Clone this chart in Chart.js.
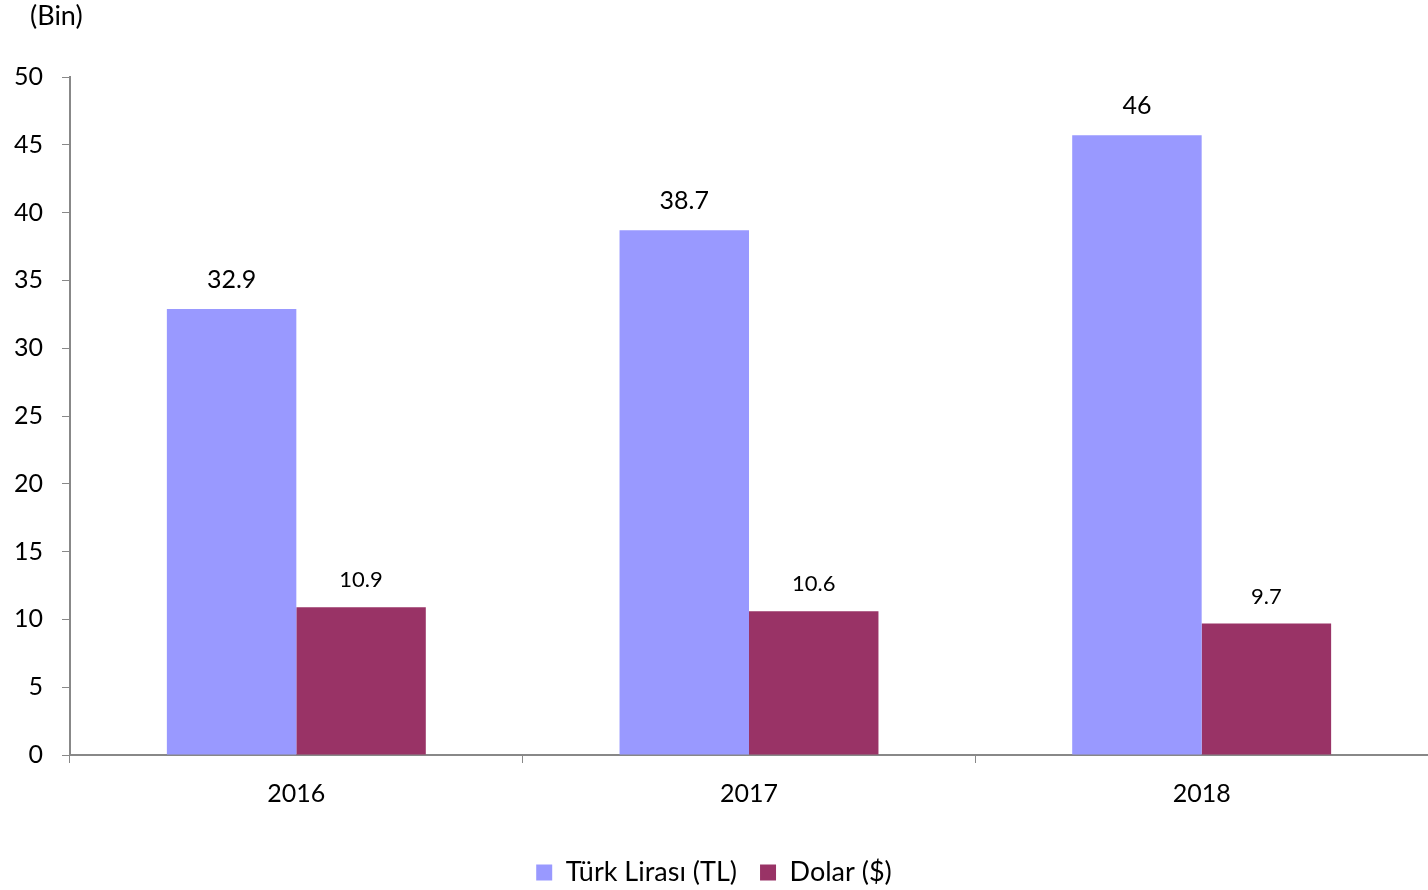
<!DOCTYPE html>
<html>
<head>
<meta charset="utf-8">
<script src="https://cdn.jsdelivr.net/npm/chart.js@4.4.0/dist/chart.umd.min.js"></script>
<style>
  html, body { margin: 0; padding: 0; background: #ffffff; }
  #wrap { width: 1428px; height: 890px; position: relative; }
</style>
</head>
<body>
<div id="wrap"><canvas id="c" width="1428" height="890"></canvas></div>
<script>
const categories = ['2016', '2017', '2018'];
const tlValues = [32.9, 38.7, 45.7];
const usdValues = [10.9, 10.6, 9.7];
const tlLabels = ['32.9', '38.7', '46'];
const usdLabels = ['10.9', '10.6', '9.7'];
const seriesNames = ['Türk Lirası (TL)', 'Dolar ($)'];
const unitLabel = '(Bin)';

const FONT = 'Lato';
const valueLabels = [tlLabels, usdLabels];

const labelPlugin = {
  id: 'valueLabels',
  afterDatasetsDraw(chart) {
    const ctx = chart.ctx;
    ctx.save();
    ctx.fillStyle = '#000000';
    ctx.textAlign = 'center';
    ctx.textBaseline = 'middle';
    chart.data.datasets.forEach((ds, di) => {
      const meta = chart.getDatasetMeta(di);
      const size = di === 0 ? 25 : 22;
      const off = di === 0 ? 29 : 27;
      ctx.font = size + 'px ' + FONT;
      meta.data.forEach((bar, i) => {
        ctx.fillText(valueLabels[di][i], bar.x, bar.y - off);
      });
    });
    ctx.font = '27px ' + FONT;
    ctx.textAlign = 'left';
    ctx.fillText(unitLabel, 30, 16);
    ctx.restore();
  }
};

new Chart(document.getElementById('c'), {
  type: 'bar',
  data: {
    labels: categories,
    datasets: [
      { label: seriesNames[0], data: tlValues, backgroundColor: '#9999FF', categoryPercentage: 0.572, barPercentage: 1 },
      { label: seriesNames[1], data: usdValues, backgroundColor: '#993366', categoryPercentage: 0.572, barPercentage: 1 }
    ]
  },
  options: {
    responsive: false,
    animation: false,
    layout: { padding: { top: 77, right: 0, left: 0, bottom: -6 } },
    plugins: {
      tooltip: { enabled: false },
      legend: {
        position: 'bottom',
        labels: {
          font: { family: FONT, size: 27 },
          color: '#000000',
          boxWidth: 16,
          boxHeight: 16,
          padding: 23
        }
      }
    },
    scales: {
      x: {
        offset: true,
        grid: { display: true, drawOnChartArea: false, offset: true, color: '#888888', tickLength: 8 },
        border: { display: true, color: '#888888', width: 2 },
        ticks: { font: { family: FONT, size: 25 }, color: '#000000', padding: 16 },
        afterFit(s) { s.height = 81; }
      },
      y: {
        min: 0, max: 50,
        ticks: { stepSize: 5, font: { family: FONT, size: 25 }, color: '#000000', padding: 19 },
        grid: { display: true, drawOnChartArea: false, color: '#888888', tickLength: 8 },
        border: { display: true, color: '#888888', width: 2 },
        afterFit(s) { s.width = 70; }
      }
    }
  },
  plugins: [labelPlugin]
});
</script>
</body>
</html>
